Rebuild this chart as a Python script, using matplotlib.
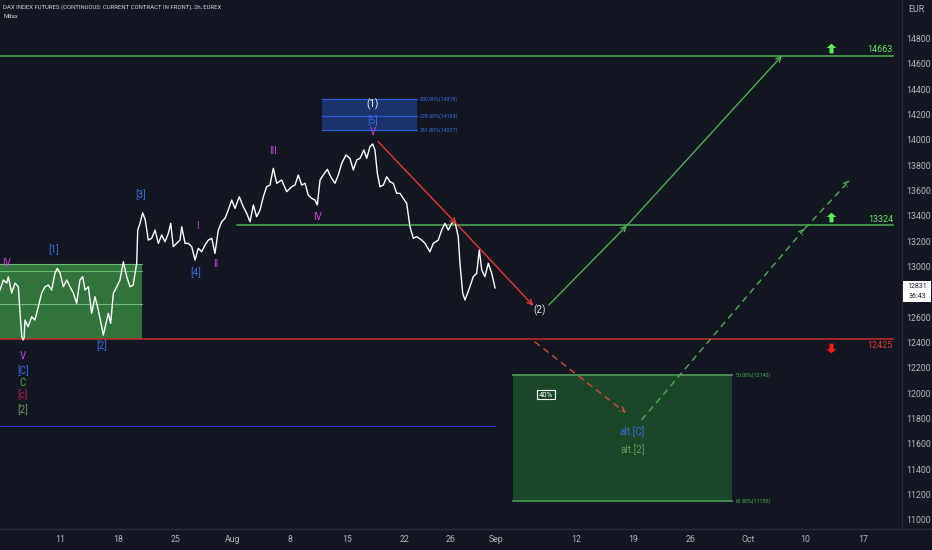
import matplotlib
matplotlib.use("Agg")
import matplotlib.pyplot as plt
from matplotlib.path import Path
from matplotlib.patches import Rectangle
from matplotlib.lines import Line2D

plt.rcParams['font.family'] = ['Roboto', 'DejaVu Sans']

# price series, x = trading days from Mon 11 Jul
day = [-5.29, -5.00, -4.70, -4.56, -4.27, -3.98, -3.69, -3.54, -3.39, -3.28, -3.19, -3.11,
       -2.84, -2.52, -2.24, -1.95, -1.65, -1.36, -1.07, -0.78, -0.49, -0.29, -0.05, 0.24,
       0.53, 0.82, 1.11, 1.40, 1.69, 1.93, 2.13, 2.42, 2.71, 3.00, 3.29, 3.59, 3.73, 3.96,
       4.16, 4.37, 4.60, 4.90, 5.18, 5.47, 5.77, 6.06, 6.34, 6.49, 6.64, 6.73, 6.93, 7.16,
       7.39, 7.65, 7.95, 8.24, 8.53, 8.82, 9.11, 9.40, 9.61, 9.83, 10.13, 10.42, 10.57,
       10.86, 11.14, 11.44, 11.73, 12.02, 12.31, 12.60, 12.89, 13.19, 13.47, 13.76, 14.06,
       14.35, 14.63, 14.93, 15.22, 15.59, 15.94, 16.24, 16.53, 16.82, 17.11, 17.40, 17.69,
       17.98, 18.27, 18.56, 18.86, 19.29, 19.73, 20.17, 20.45, 20.74, 21.04, 21.33, 21.61,
       21.91, 22.20, 22.40, 22.64, 22.92, 23.27, 23.57, 23.94, 24.23, 24.53, 24.90, 25.25,
       25.54, 25.84, 26.13, 26.47, 26.71, 27.00, 27.23, 27.43, 27.64, 27.87, 28.16, 28.46,
       28.74, 29.03, 29.33, 29.62, 29.90, 30.20, 30.49, 30.78, 31.07, 31.51, 31.80, 32.23,
       32.52, 32.96, 33.25, 33.54, 33.83, 34.13, 34.41, 34.70, 34.85, 35.09, 35.29, 35.72,
       36.01, 36.31, 36.54, 36.75, 37.03, 37.32, 37.62, 37.91]
close = [12814, 12893, 12869, 12919, 12790, 12869, 12840, 12632, 12446, 12420, 12435, 12577,
         12524, 12603, 12577, 12682, 12790, 12840, 12853, 12814, 12948, 12985, 12948, 12840,
         12893, 12840, 12790, 12709, 12893, 12919, 12814, 12840, 12630, 12761, 12656, 12524,
         12459, 12551, 12630, 12551, 12788, 12840, 12893, 13037, 12919, 12840, 12853, 12946,
         13025, 13287, 13340, 13424, 13366, 13208, 13222, 13287, 13182, 13248, 13195, 13261,
         13340, 13156, 13182, 13208, 13313, 13182, 13182, 13156, 13051, 13143, 13116, 13169,
         13208, 13222, 13103, 13287, 13353, 13380, 13445, 13524, 13458, 13550, 13471, 13419,
         13353, 13485, 13392, 13445, 13550, 13629, 13642, 13774, 13656, 13682, 13590, 13629,
         13642, 13721, 13642, 13656, 13563, 13537, 13524, 13485, 13682, 13721, 13766, 13708,
         13656, 13721, 13814, 13879, 13853, 13761, 13840, 13853, 13919, 13853, 13945, 13966,
         13919, 13735, 13629, 13642, 13708, 13668, 13656, 13577, 13577, 13537, 13498, 13313,
         13222, 13235, 13208, 13182, 13116, 13182, 13208, 13287, 13340, 13287, 13340, 13353,
         13235, 13025, 12788, 12735, 12840, 12919, 12946, 13130, 12972, 12919, 13025, 12946,
         12831]

xtick_pos = [0, 5, 10, 15, 20, 25, 30, 34, 38, 45, 50, 55, 60, 65, 70]
xtick_lab = ['11', '18', '25', 'Aug', '8', '15', '22', '26', 'Sep', '12', '19', '26', 'Oct', '10', '17']
ytick_pos = list(range(11000, 14801, 200))
# 12800 sits under the live price tag
ytick_lab = ['' if v == 12800 else str(v) for v in ytick_pos]

level_up = [14663, 13324]
level_down = 12425
blue_level = 11741

# left green range box
range_box = [12425, 12701, 12966, 13019]
# fib extension box at top
fib_levels = [14077, 14184, 14319]
fib_labels = ['261.80%(14077)', '278.60%(14184)', '300.00%(14319)']
# target box below
target_levels = [11150, 12140]
target_labels = ['61.80%(11150)', '50.00%(12140)']

# projected paths
red_path_x = [27.72, 34.56, 41.25]
red_path_y = [13984, 13335, 12690]
green_path_x = [42.6, 49.43, 62.95]
green_path_y = [12696, 13324, 14663]
alt_down_x = [41.4, 49.34]
alt_down_y = [12404, 11843]
alt_up_x = [50.73, 64.95, 68.88]
alt_up_y = [11792, 13300, 13680]

# wave labels: text, x, y, colour
MAG = '#d13fe6'
BLU = '#3a6ee8'
waves = [
    ('IV', -4.76, 13024, MAG), ('[1]', -0.58, 13135, BLU), ('[3]', 7.02, 13563, BLU),
    ('I', 11.96, 13319, MAG), ('[4]', 11.79, 12954, BLU), ('II', 13.53, 13017, MAG),
    ('[2]', 3.59, 12374, BLU), ('V', -3.25, 12296, MAG), ('[C]', -3.3, 12177, BLU),
    ('C', -3.3, 12078, '#4caf50'), ('[c]', -3.3, 11985, '#c2185b'), ('[2]', -3.3, 11873, '#6f9a6f'),
    ('III', 18.5, 13911, MAG), ('IV', 22.43, 13392, MAG), ('V', 27.23, 14063, MAG),
    ('(1)', 27.23, 14281, 'white'), ('[5]', 27.23, 14150, BLU), ('(2)', 41.8, 12656, '#e0e0e0'),
    ('alt.[C]', 49.9, 11696, BLU), ('alt.[2]', 49.9, 11557, '#5aa05a'),
]

bg = '#131722'
grey = '#b2b5be'
green = '#4caf50'
red = '#c62828'

fig = plt.figure(figsize=(9.32, 5.5), dpi=100, facecolor=bg)
ax = fig.add_axes([0, 21 / 550, 901.7 / 932, 529 / 550])
ax.set_facecolor(bg)
ax.set_xlim(-5.29, 73.4)
ax.set_ylim(10928.5, 15102.2)

for s in ['left', 'top']:
    ax.spines[s].set_visible(False)
for s in ['right', 'bottom']:
    ax.spines[s].set_color('#2a2e39')
ax.yaxis.tick_right()
ax.set_yticks(ytick_pos)
ax.set_yticklabels(ytick_lab)
ax.set_xticks(xtick_pos)
ax.set_xticklabels(xtick_lab)
ax.tick_params(axis='y', length=0, pad=3, labelsize=6.3, colors=grey)
ax.tick_params(axis='x', length=0, pad=4, labelsize=6.3, colors=grey)

# left range box
ax.add_patch(Rectangle((-5.29, range_box[0]), 7.08 + 5.29, range_box[3] - range_box[0],
                       facecolor='#3f9c46', alpha=0.7, lw=0, zorder=1))
for lv in range_box[1:]:
    ax.plot([-5.29, 7.08], [lv, lv], color='#86dd90', lw=0.8, alpha=0.7, zorder=1)

# fib box
ax.add_patch(Rectangle((22.8, fib_levels[0]), 31.1 - 22.8, fib_levels[2] - fib_levels[0],
                       facecolor='#1c3674', alpha=0.9, lw=0, zorder=1))
for lv, lab in zip(fib_levels, fib_labels):
    ax.plot([22.8, 31.1], [lv, lv], color='#2a5bdc', lw=0.9, zorder=2)
    ax.text(31.3, lv, lab, color='#3a6df0', fontsize=3.8, va='center', ha='left')

# target box
ax.add_patch(Rectangle((39.5, target_levels[0]), 58.6 - 39.5, target_levels[1] - target_levels[0],
                       facecolor='#1c4a2a', alpha=0.95, lw=0, zorder=1))
for lv, lab in zip(target_levels, target_labels):
    ax.plot([39.5, 58.6], [lv, lv], color='#4f9a5a', lw=1.2, zorder=2)
    ax.text(58.9, lv, lab, color='#4caf50', fontsize=3.8, va='center', ha='left')
ax.text(42.36, 11989, '40%', color='white', fontsize=5.5, ha='center', va='center',
        bbox=dict(boxstyle='square,pad=0.25', fc='none', ec='white', lw=0.8))

# horizontal levels
ax.plot([-5.29, 72.64], [level_up[0]] * 2, color=green, lw=1.1, zorder=2)
ax.plot([15.4, 72.64], [level_up[1]] * 2, color=green, lw=1.1, zorder=2)
ax.plot([-5.29, 72.64], [level_down] * 2, color=red, lw=1.1, zorder=2)
ax.plot([-5.29, 37.9], [blue_level] * 2, color='#3030c0', lw=0.8, zorder=2)

up_arrow = Path([(0, 1), (1, 0.1), (0.42, 0.1), (0.42, -1), (-0.42, -1), (-0.42, 0.1),
                 (-1, 0.1), (0, 1)], closed=True)
down_arrow = Path([(x, -y) for x, y in up_arrow.vertices], closed=True)
for lv in level_up:
    ax.plot(67.27, lv + 63, marker=up_arrow, ms=7, color='#5ee85e', mew=0, zorder=5)
    ax.text(72.64, lv + 12, str(lv), color='#5ee85e', fontsize=6.5, ha='right', va='bottom')
ax.plot(67.27, level_down - 68, marker=down_arrow, ms=7, color='#ff1a1a', mew=0, zorder=5)
ax.text(72.64, level_down - 14, str(level_down), color='#e53935', fontsize=6.5, ha='right', va='top')


def path_arrows(xs, ys, color, ls):
    for i in range(len(xs) - 1):
        ax.annotate('', xy=(xs[i + 1], ys[i + 1]), xytext=(xs[i], ys[i]),
                    arrowprops=dict(arrowstyle='->', color=color, lw=1, linestyle=ls,
                                    shrinkA=0, shrinkB=0, mutation_scale=9), zorder=4)


path_arrows(red_path_x, red_path_y, '#e53935', '-')
path_arrows(green_path_x, green_path_y, green, '-')
path_arrows(alt_down_x, alt_down_y, '#d84a36', (0, (4, 4)))
path_arrows(alt_up_x, alt_up_y, green, (0, (4, 4)))

# price line
ax.plot(day, close, color='white', lw=1.0, zorder=3)

for t, x, y, c in waves:
    ax.text(x, y, t, color=c, fontsize=7, ha='center', va='center', zorder=6)

# header and axis extras
fig.text(3 / 932, 1 - 7 / 550, 'DAX INDEX FUTURES (CONTINUOUS: CURRENT CONTRACT IN FRONT), 2h, EUREX',
         color='#d1d4dc', fontsize=4.3, va='center')
fig.text(3 / 932, 1 - 17 / 550, 'Mdax', color='#d1d4dc', fontsize=4.3, va='center')
fig.text(916 / 932, 1 - 10 / 550, 'EUR', color=grey, fontsize=6.3, ha='center', va='center')
fig.add_artist(Line2D([0, 1], [21 / 550, 21 / 550], color='#2a2e39', lw=1))
fig.add_artist(Rectangle((903 / 932, 1 - 302 / 550), 28 / 932, 21 / 550, facecolor='white',
                         edgecolor='none', transform=fig.transFigure))
fig.text(917 / 932, 1 - 286 / 550, '12831', color='#131722', fontsize=5.0, ha='center', va='center')
fig.text(917 / 932, 1 - 297 / 550, '36:43', color='#131722', fontsize=5.0, ha='center', va='center')

fig.savefig('out.png', dpi=100, facecolor=bg)
